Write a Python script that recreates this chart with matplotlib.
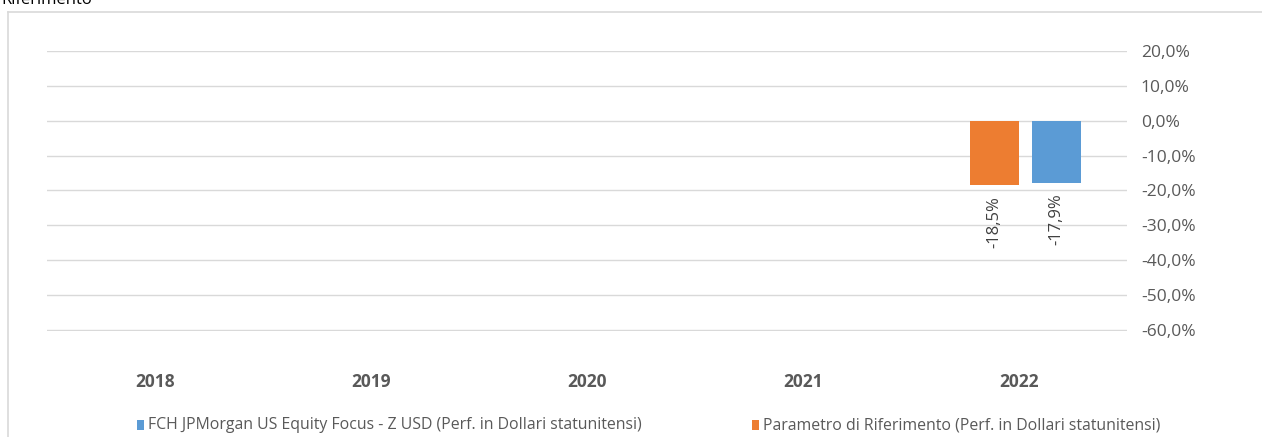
import numpy as np
import matplotlib.pyplot as plt
from matplotlib.patches import Rectangle
from matplotlib.lines import Line2D

# Dati
anni = ['2018', '2019', '2020', '2021', '2022']
fondo = [np.nan, np.nan, np.nan, np.nan, -17.9]       # FCH JPMorgan US Equity Focus - Z USD
parametro = [np.nan, np.nan, np.nan, np.nan, -18.5]   # Parametro di Riferimento
etichette_y = [20, 10, 0, -10, -20, -30, -40, -50, -60]

nome_fondo = 'FCH JPMorgan US Equity Focus - Z USD (Perf. in Dollari statunitensi)'
nome_param = 'Parametro di Riferimento (Perf. in Dollari statunitensi)'

BLU = '#5B9BD5'
ARANCIO = '#ED7D31'
GRIGIO = '#595959'

plt.rcParams['font.family'] = ['Open Sans', 'DejaVu Sans']

W, H = 1262, 437
fig = plt.figure(figsize=[W/100, H/100], dpi=100)

# cornice del grafico (solo bordo sinistro e superiore visibili)
fig.lines.append(Line2D([8/W, 8/W], [0, 1 - 12/H], transform=fig.transFigure,
                        color='#D9D9D9', linewidth=1.2))
fig.lines.append(Line2D([8/W, 1], [1 - 12/H, 1 - 12/H], transform=fig.transFigure,
                        color='#D9D9D9', linewidth=1.2))
fig.text(1/W, 1 - 3.5/H, 'Riferimento', fontsize=12, color='#000000', ha='left', va='baseline')

# area del grafico
ax = fig.add_axes([47/W, 1 - 331/H, (1127-47)/W, (331-51)/H])
x = np.arange(len(anni))
larg = 0.228
off = 0.145

b1 = ax.bar(x - off + 0.03, parametro, larg, color=ARANCIO, zorder=3)
b2 = ax.bar(x + off + 0.03, fondo, larg, color=BLU, zorder=3)

for barre, vals in [(b1, parametro), (b2, fondo)]:
    for r, v in zip(barre, vals):
        if np.isnan(v):
            continue
        ax.text(r.get_x() + r.get_width()/2, v - 3.0, f'{v:.1f}%'.replace('.', ','),
                rotation=90, ha='center', va='top', fontsize=12, color='#404040')

ax.set_xlim(-0.5, len(anni) - 0.5)
ax.set_ylim(-60.3, 20)
ax.set_yticks(etichette_y)
ax.yaxis.set_ticks_position('right')
ax.set_yticklabels([f'{v:.1f}%'.replace('.', ',') for v in etichette_y], fontsize=12.5, color=GRIGIO)
ax.tick_params(axis='y', length=0, pad=10)
ax.grid(axis='y', color='#D9D9D9', linewidth=1, zorder=0)

ax.set_xticks(x)
ax.set_xticklabels(anni, fontsize=12.5, fontweight='bold', color=GRIGIO)
ax.tick_params(axis='x', length=0, pad=30)
for s in ax.spines.values():
    s.set_visible(False)

# legenda
fig.patches.append(Rectangle((137/W, 1 - 430/H), 7/W, 10/H, transform=fig.transFigure,
                             facecolor=BLU, edgecolor='none'))
fig.text(148/W, 1 - 425/H, nome_fondo, fontsize=11.4, color=GRIGIO, ha='left', va='center')
fig.patches.append(Rectangle((752/W, 1 - 430/H), 7/W, 10/H, transform=fig.transFigure,
                             facecolor=ARANCIO, edgecolor='none'))
fig.text(763/W, 1 - 425/H, nome_param, fontsize=11.4, color=GRIGIO, ha='left', va='center')

fig.savefig('out.png', dpi=100)
